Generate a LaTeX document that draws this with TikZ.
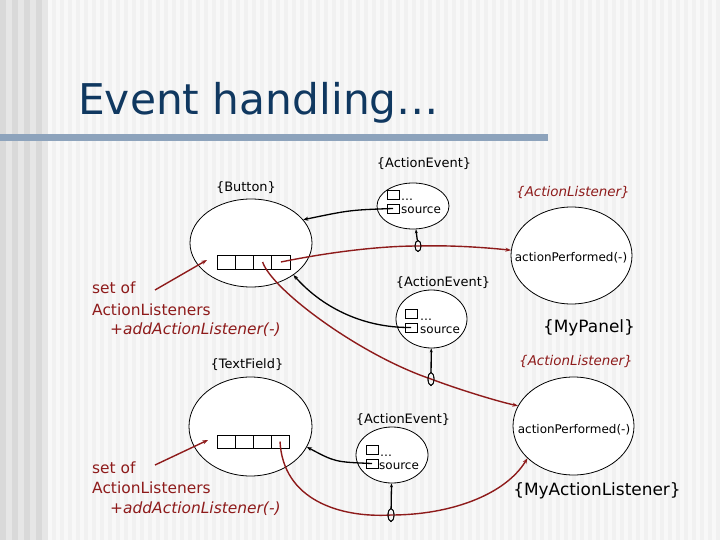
\documentclass[tikz,border=0pt]{standalone}
\usepackage{fontspec}
\setmainfont{DejaVu Sans}
\usetikzlibrary{shapes.geometric,arrows.meta}
\definecolor{titleblue}{HTML}{103860}
\definecolor{barblue}{HTML}{8DA3BC}
\definecolor{dred}{HTML}{8E1B1B}
\definecolor{bgA}{HTML}{F1F1F1}
\definecolor{bgB}{HTML}{F8F8F8}
\definecolor{bgC}{HTML}{D9D9D9}
\definecolor{bgD}{HTML}{E6E6E6}
\begin{document}
\begin{tikzpicture}[x=1bp,y=-1bp,
  obj/.style={ellipse,draw=black,line width=0.8bp,fill=white,inner sep=0pt},
  cell/.style={rectangle,draw=black,line width=0.8bp,fill=white,minimum width=18.25bp,minimum height=14bp,inner sep=0pt},
  sq/.style={rectangle,draw=black,line width=0.8bp,fill=white,minimum width=12bp,minimum height=9bp,inner sep=0pt},
  knob/.style={ellipse,draw=black,line width=0.8bp,minimum width=6bp,minimum height=13bp,inner sep=0pt},
  lbl/.style={font=\fontsize{13}{15}\selectfont,anchor=base,inner sep=0pt},
  rlbl/.style={font=\fontsize{13.5}{15}\selectfont\itshape,text=dred,anchor=base,inner sep=0pt},
  small/.style={font=\fontsize{12}{14}\selectfont,anchor=base,inner sep=0pt},
  smallw/.style={font=\fontsize{12}{14}\selectfont,anchor=base west,inner sep=0pt},
  big/.style={font=\fontsize{17}{20}\selectfont,anchor=base,inner sep=0pt},
  settxt/.style={font=\fontsize{15.5}{18}\selectfont,text=dred,anchor=base west,inner sep=0pt},
  blkarrow/.style={draw=black,line width=1.3bp,-{Stealth[length=5bp,width=4bp]}},
  redarrow/.style={draw=dred,line width=1.4bp,-{Stealth[length=5.5bp,width=4bp]}},
  redline/.style={draw=dred,line width=1.4bp},
  knobline/.style={draw=black,line width=1.3bp,-{Stealth[length=4bp,width=3bp]}}
]
\useasboundingbox (0,0) rectangle (720,540);
% background
\fill[bgA] (0,0) rectangle (720,540);
\foreach \i in {0,...,84} { \fill[bgB] ({48+\i*8},0) rectangle ({52+\i*8},540); }
\fill[bgC] (0,0) rectangle (46,540);
\foreach \i in {0,...,3} { \fill[bgD] ({\i*12+6},0) rectangle ({\i*12+12},540); }
\fill[barblue] (0,134) rectangle (548,141);
% title
\node[anchor=base west,inner sep=0pt,text=titleblue,font=\fontsize{42.5}{50}\selectfont] (title) at (78,115) {Event handling…};

% objects
\node[obj,minimum width=122bp,minimum height=88bp] (btn) at (251,243) {};
\node[obj,minimum width=72bp,minimum height=46bp] (ae1) at (413,206) {};
\node[obj,minimum width=121bp,minimum height=97bp] (al1) at (571.5,255.5) {};
\node[obj,minimum width=71bp,minimum height=58bp] (ae2) at (431.5,319) {};
\node[obj,minimum width=123bp,minimum height=99bp] (tf) at (250.5,426.5) {};
\node[obj,minimum width=72bp,minimum height=56bp] (ae3) at (392,455) {};
\node[obj,minimum width=121bp,minimum height=98bp] (al2) at (573.5,426) {};

% arrays
\node[cell] (b1) at (226.1,262) {};
\node[cell] (b2) at (244.4,262) {};
\node[cell] (b3) at (262.6,262) {};
\node[cell] (b4) at (280.9,262) {};
\node[cell,minimum width=18bp,minimum height=13bp] (t1) at (226,441.5) {};
\node[cell,minimum width=18bp,minimum height=13bp] (t2) at (244,441.5) {};
\node[cell,minimum width=18bp,minimum height=13bp] (t3) at (262,441.5) {};
\node[cell,minimum width=18bp,minimum height=13bp] (t4) at (280,441.5) {};

% event fields
\node[sq] (s11) at (393,195) {};
\node[sq] (s12) at (393,208.5) {};
\node[smallw] (d1) at (401,201) {…};
\node[smallw] (src1) at (401,214) {source};
\node[sq] (s21) at (411,313.5) {};
\node[sq] (s22) at (411,327.5) {};
\node[smallw] (d2) at (420,320) {…};
\node[smallw] (src2) at (420,333) {source};
\node[sq] (s31) at (372,449.5) {};
\node[sq] (s32) at (372,463.5) {};
\node[smallw] (d3) at (380,456) {…};
\node[smallw] (src3) at (379,469) {source};

% labels
\node[lbl] (lbtn) at (246,192) {\{Button\}};
\node[lbl] (lae1) at (424,168) {\{ActionEvent\}};
\node[rlbl] (lal1) at (573,197) {\{ActionListener\}};
\node[small] (ap1) at (571,262) {actionPerformed(-)};
\node[big] (mypanel) at (589,332) {\{MyPanel\}};
\node[lbl] (lae2) at (443,287) {\{ActionEvent\}};
\node[lbl] (ltf) at (247,368) {\{TextField\}};
\node[lbl] (lae3) at (403,423) {\{ActionEvent\}};
\node[rlbl] (lal2) at (576,365) {\{ActionListener\}};
\node[small] (ap2) at (574,433) {actionPerformed(-)};
\node[big] (myal) at (597,495) {\{MyActionListener\}};

\node[settxt] (set1a) at (92,293) {set of};
\node[settxt] (set1b) at (92,315) {ActionListeners};
\node[settxt] (set1c) at (110,334) {\itshape +addActionListener(-)};
\node[settxt] (set2a) at (92,473) {set of};
\node[settxt] (set2b) at (92,493) {ActionListeners};
\node[settxt] (set2c) at (110,513) {\itshape +addActionListener(-)};

\coordinate (p1) at (155,290);
\coordinate (q1) at (207,260);
\coordinate (p2) at (155,465);
\coordinate (q2) at (208,440);

% knobs
\node[knob,minimum height=11bp] (ov1) at (418,246) {};
\node[knob] (ov2) at (431,379) {};
\node[knob] (ov3) at (391,515) {};

% red connectors
\draw[redarrow] (p1) -- (q1);
\draw[redarrow] (p2) -- (q2);
\draw[redline] (b4.center) .. controls (330,252) and (380,246) .. (ov1.center);
\draw[redarrow] (ov1.center) .. controls (455,245) and (490,248) .. (al1.175);
\draw[redline] (b3.center) .. controls (272,290) and (360,355) .. (ov2.center);
\draw[redarrow] (ov2.center) .. controls (460,390) and (500,402) .. (al2.160);
\draw[redline] (t4.center) .. controls (283,500) and (340,518) .. (ov3.center);
\draw[redarrow] (ov3.center) .. controls (450,515) and (505,495) .. (al2.215);

% black connectors
\draw[blkarrow] (s12.center) .. controls (350,210) .. (btn.24);
\draw[blkarrow] (s22.center) .. controls (360,328) and (320,305) .. (btn.-37);
\draw[blkarrow] (s32.center) .. controls (335,462) .. (tf.-20);

% knobs redrawn on top and their links
\node[knob,minimum height=11bp] at (ov1) {};
\node[knob] at (ov2) {};
\node[knob] at (ov3) {};
\draw[knobline] (ov1) -- (ae1);
\draw[knobline] (ov2) -- (ae2);
\draw[knobline] (ov3) -- (ae3);
\end{tikzpicture}
\end{document}
